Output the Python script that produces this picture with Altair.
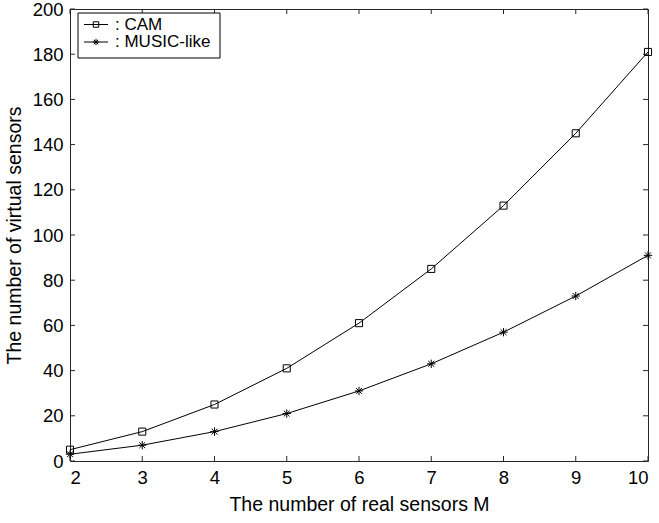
import altair as alt
import pandas as pd

M = [2, 3, 4, 5, 6, 7, 8, 9, 10]
cam = [5, 13, 25, 41, 61, 85, 113, 145, 181]
music = [3, 7, 13, 21, 31, 43, 57, 73, 91]
x_ticks = [2, 3, 4, 5, 6, 7, 8, 9, 10]
y_ticks = [0, 20, 40, 60, 80, 100, 120, 140, 160, 180, 200]
legend_labels = [": CAM", ": MUSIC-like"]

FONT = "Liberation Sans"
W, H = 578, 452

df = pd.DataFrame({
    "M": M * 2,
    "value": cam + music,
    "series": ["CAM"] * len(M) + ["MUSIC-like"] * len(M),
})
df_cam = df[df.series == "CAM"]
df_mus = df[df.series == "MUSIC-like"]

xs = alt.Scale(domain=[2, 10], nice=False, zero=False)
ys = alt.Scale(domain=[0, 200], nice=False, zero=False)

xax = alt.Axis(values=x_ticks, format="d", title="The number of real sensors M",
               titlePadding=9)
yax = alt.Axis(values=y_ticks, format="d", title="The number of virtual sensors",
               titlePadding=8)

base = alt.Chart(df)
lines = base.mark_line(color="black", strokeWidth=1).encode(
    x=alt.X("M:Q", scale=xs, axis=xax),
    y=alt.Y("value:Q", scale=ys, axis=yax),
    detail="series:N",
)
pts_cam = alt.Chart(df_cam).mark_point(shape="square", filled=False, color="black",
                                       size=50, strokeWidth=1, opacity=1).encode(
    x=alt.X("M:Q", scale=xs), y=alt.Y("value:Q", scale=ys))
STAR = "M-1,0L1,0M0,-1L0,1M-0.7,-0.7L0.7,0.7M-0.7,0.7L0.7,-0.7"
pts_mus = alt.Chart(df_mus).mark_point(shape=STAR, filled=False, color="black",
                                       size=70, strokeWidth=1, opacity=1).encode(
    x=alt.X("M:Q", scale=xs), y=alt.Y("value:Q", scale=ys))

# inward ticks on all four sides
tx = pd.DataFrame({"t": x_ticks})
ty = pd.DataFrame({"t": y_ticks})
TL = 5
tick_b = alt.Chart(tx).mark_rule(color="#262626", strokeWidth=1).encode(
    x=alt.X("t:Q", scale=xs), y=alt.value(H), y2=alt.value(H - TL))
tick_t = alt.Chart(tx).mark_rule(color="#262626", strokeWidth=1).encode(
    x=alt.X("t:Q", scale=xs), y=alt.value(0), y2=alt.value(TL))
tick_l = alt.Chart(ty).mark_rule(color="#262626", strokeWidth=1).encode(
    y=alt.Y("t:Q", scale=ys), x=alt.value(0), x2=alt.value(TL))
tick_r = alt.Chart(ty).mark_rule(color="#262626", strokeWidth=1).encode(
    y=alt.Y("t:Q", scale=ys), x=alt.value(W), x2=alt.value(W - TL))

# legend
one = pd.DataFrame({"a": [0]})
leg_box = alt.Chart(one).mark_rect(fill="white", stroke="black", strokeWidth=1).encode(
    x=alt.value(8), x2=alt.value(150), y=alt.value(4), y2=alt.value(49))
leg_l1 = alt.Chart(one).mark_rule(color="black", strokeWidth=1).encode(
    x=alt.value(14), x2=alt.value(38), y=alt.value(15.5))
leg_l2 = alt.Chart(one).mark_rule(color="black", strokeWidth=1).encode(
    x=alt.value(14), x2=alt.value(38), y=alt.value(33))
leg_m1 = alt.Chart(one).mark_point(shape="square", filled=False, color="black",
                                   size=30, strokeWidth=1, opacity=1).encode(
    x=alt.value(26), y=alt.value(15.5))
leg_m2 = alt.Chart(one).mark_point(shape=STAR, filled=False, color="black",
                                   size=40, strokeWidth=1, opacity=1).encode(
    x=alt.value(26), y=alt.value(33))
leg_t1 = alt.Chart(one).mark_text(text=legend_labels[0], font=FONT, fontSize=17,
                                  align="left", baseline="middle", color="black").encode(
    x=alt.value(45), y=alt.value(15.5))
leg_t2 = alt.Chart(one).mark_text(text=legend_labels[1], font=FONT, fontSize=17,
                                  align="left", baseline="middle", color="black").encode(
    x=alt.value(45), y=alt.value(33))

chart = alt.layer(
    lines, pts_cam, pts_mus, tick_b, tick_t, tick_l, tick_r,
    leg_box, leg_l1, leg_l2, leg_m1, leg_m2, leg_t1, leg_t2,
).properties(
    width=W, height=H,
    autosize=alt.AutoSizeParams(type="none"),
    padding={"left": 70, "top": 9, "right": 11, "bottom": 62},
    background="white",
).configure_view(
    stroke="#262626", strokeWidth=1
).configure_axis(
    grid=False, domain=False, ticks=False,
    labelFont=FONT, labelFontSize=18.5, labelColor="black", labelPadding=7,
    titleFont=FONT, titleFontSize=19.5, titleFontWeight="normal", titleColor="black",
)

chart.save("out.html", embed_options={"renderer": "svg", "actions": False})
